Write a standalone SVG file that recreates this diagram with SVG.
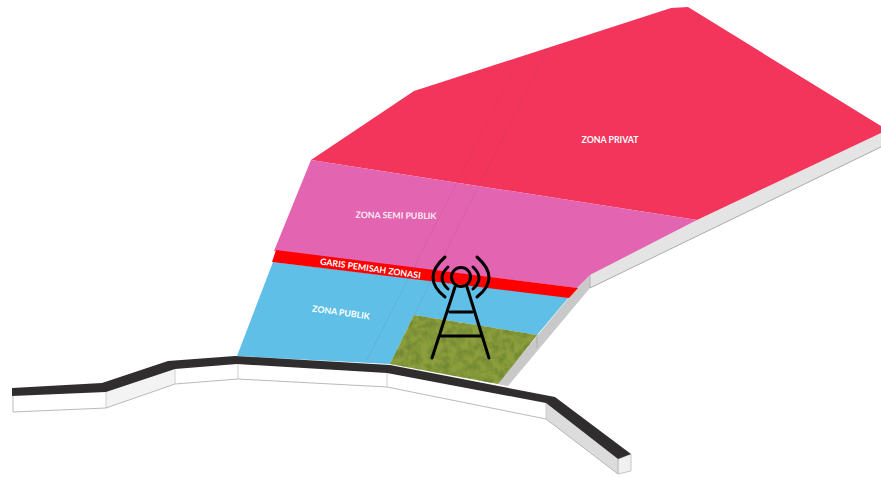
<svg xmlns="http://www.w3.org/2000/svg" width="881" height="477" viewBox="0 0 881 477">
<style>
.lbl{font-family:"Lato","Liberation Sans",sans-serif;font-weight:700;fill:#fff;text-anchor:middle;font-size:8.8px}
.seam{fill:none;stroke:#7a4a80;stroke-opacity:.2;stroke-width:.7}
.t{fill:none;stroke:#000;stroke-width:3;stroke-linecap:round}
</style>
<defs>
<filter id="grass" x="0" y="0" width="1" height="1" color-interpolation-filters="sRGB">
<feTurbulence type="fractalNoise" baseFrequency="0.14" numOctaves="3" seed="4" result="n"/>
<feColorMatrix in="n" type="matrix" values="0 0 0 0 .44  0 0 0 0 .53  0 0 0 0 .2  2.2 0 0 0 -.75" result="d"/>
<feComposite in="d" in2="SourceGraphic" operator="in" result="c"/>
<feMerge><feMergeNode in="SourceGraphic"/><feMergeNode in="c"/></feMerge>
</filter>
</defs>
<rect width="881" height="477" fill="#fff"/>
<g id="slab-sides">
<polygon points="881,133 881,147 590,288 590,275 697,220" fill="#e4e4e4"/>
<path d="M881,147 590,288" fill="none" stroke="#999" stroke-width=".8"/>
<polygon points="577,288 590,275 590,288 508,386 497,384" fill="#c9c9c9"/>
<path d="M590,275V288M537,335V348" fill="none" stroke="#aaa" stroke-width=".8"/>
</g>
<g id="zona-privat">
<polygon points="311,160 414,91 671,8 688,7 881,126 881,133 697,220" fill="#f3355c"/>
<text class="lbl" x="610" y="142.500">ZONA PRIVAT</text>
</g>
<g id="zona-semi-publik">
<polygon points="311,160 697,220 590,275 577,288 274,251" fill="#e364b1"/>
<text class="lbl" x="396" y="218.500" fill-opacity=".9" transform="rotate(1 396 215)">ZONA SEMI PUBLIK</text>
</g>
<g id="zona-publik">
<polygon points="273,262 569,297 537,335 414,315 390,364 237,356" fill="#60bfe6"/>
<text class="lbl" x="341" y="315.500" transform="rotate(8 341 312)">ZONA PUBLIK</text>
</g>
<g id="taman">
<polygon points="414,315 537,335 498,384 390,364" fill="#8d9f3c" filter="url(#grass)"/>
</g>
<g id="garis-pemisah">
<polygon points="276,250 578,288 569,298 272,262" fill="#fe0000"/>
<text class="lbl" x="370.500" y="271.500" transform="rotate(8 370.500 268)">GARIS PEMISAH ZONASI</text>
</g>
<g id="seams">
<path class="seam" d="M520,58 367,360"/>
<path class="seam" d="M548,48 414,315"/>
</g>
<g id="wall">
<polygon points="12,396 106,392 175,369 237,364 387,373 546,403 546,419 387,387 238,379 175,384 106,408 13,412" fill="#fff"/>
<polygon points="106,392 175,369 175,384 106,408" fill="#f3f3f3"/>
<polygon points="546,403 618,459 618,474 546,419" fill="#dcdcdc"/>
<polygon points="618,459 631,454 631,471 618,474" fill="#f0f0f0" stroke="#b8b8b8" stroke-width=".8"/>
<path d="M106,392V408M175,369V384M238,364V379M387,373V387M546,403V419M618,459V474" fill="none" stroke="#c4c4c4" stroke-width=".8"/>
<path d="M13,396V412L106,408 175,384 238,379 387,387 546,419 618,474" fill="none" stroke="#a8a8a8" stroke-width=".8"/>
<polygon points="12,388 102,383 168,361 235,356 390,365 555,397 631,454 618,459 546,403 387,373 237,364 175,369 106,392 12,396" fill="#302d2e"/>
</g>
<g id="menara">
<circle class="t" cx="461" cy="277" r="9.500"/>
<path class="t" d="M455,287 432,358M467,287 489,358M450,312H472M440,336H482"/>
<path class="t" d="M448,267Q436,278 448,289M473,267Q485,278 473,289M445,257Q421,278 445,297M477,257Q501,278 477,297"/>
</g>
</svg>
